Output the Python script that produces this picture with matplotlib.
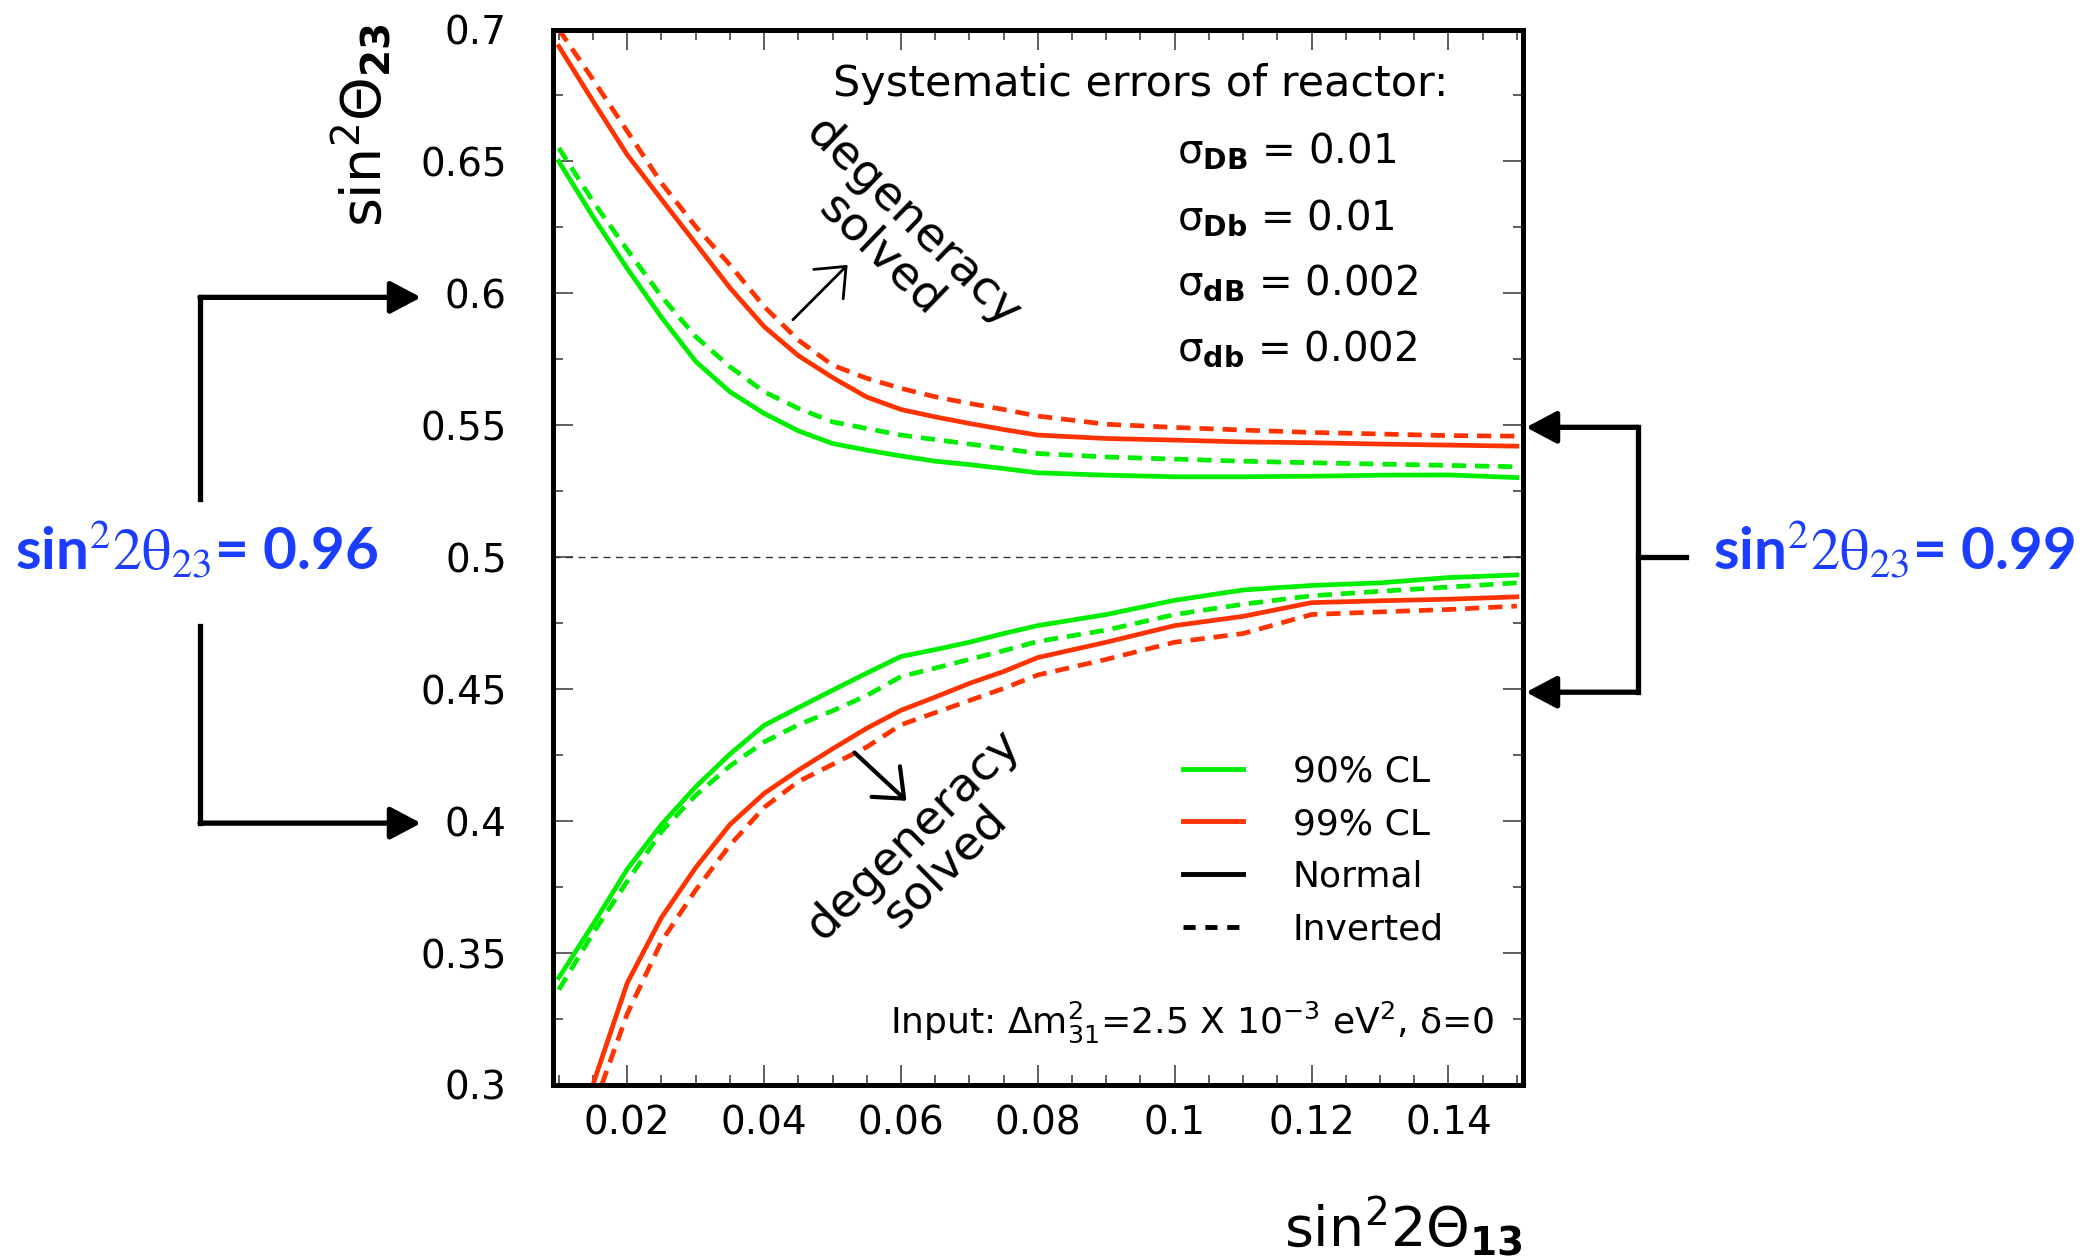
import matplotlib.pyplot as plt
import numpy as np
from matplotlib.lines import Line2D

# ---- data ---------------------------------------------------------------
# sin^2(2 theta_13) grid
x = [0.01, 0.015, 0.02, 0.025, 0.03, 0.035, 0.04, 0.045, 0.05, 0.055, 0.06,
     0.065, 0.07, 0.075, 0.08, 0.09, 0.10, 0.11, 0.12, 0.13, 0.14, 0.15]

# upper branch (sin^2 theta_23 > 0.5)
g90_norm_hi = [0.650, 0.629, 0.6094, 0.5909, 0.5742, 0.5627, 0.5545, 0.5479, 0.5431,
               0.5406, 0.5384, 0.5364, 0.5351, 0.5336, 0.5320, 0.5311, 0.5305,
               0.5305, 0.5307, 0.5311, 0.5312, 0.5302]
g90_inv_hi = [0.6551, 0.6348, 0.6165, 0.5988, 0.5836, 0.5722, 0.5627, 0.5564, 0.5513,
              0.5488, 0.5463, 0.5446, 0.5429, 0.5412, 0.5393, 0.5380, 0.5372,
              0.5364, 0.5358, 0.5353, 0.5348, 0.5343]
r99_norm_hi = [0.6936, 0.6728, 0.6525, 0.6356, 0.6189, 0.6021, 0.5874, 0.5764, 0.5681,
               0.5607, 0.5560, 0.5532, 0.5507, 0.5484, 0.5463, 0.5450, 0.5444,
               0.5437, 0.5434, 0.5429, 0.5425, 0.5421]
r99_inv_hi = [0.7000, 0.6810, 0.6614, 0.6418, 0.6253, 0.6108, 0.5950, 0.5823, 0.5728,
              0.5678, 0.5640, 0.5608, 0.5583, 0.5560, 0.5535, 0.5504, 0.5492,
              0.5482, 0.5473, 0.5467, 0.5461, 0.5459]

# lower branch (sin^2 theta_23 < 0.5)
g90_norm_lo = [0.3407, 0.3609, 0.3818, 0.3987, 0.4130, 0.4254, 0.4363, 0.4430, 0.4496,
               0.4561, 0.4624, 0.4650, 0.4678, 0.4711, 0.4741, 0.4783, 0.4837,
               0.4876, 0.4893, 0.4903, 0.4923, 0.4933]
g90_inv_lo = [0.3361, 0.3576, 0.3772, 0.3961, 0.4098, 0.4209, 0.4300, 0.4365, 0.4418,
              0.4476, 0.4548, 0.4580, 0.4613, 0.4646, 0.4681, 0.4724, 0.4783,
              0.4822, 0.4854, 0.4871, 0.4887, 0.4903]
x_r99_norm_lo = x[1:]
r99_norm_lo = [0.3003, 0.3387, 0.3635, 0.3824, 0.3987, 0.4105, 0.4193, 0.4274,
               0.4352, 0.4420, 0.4470, 0.4522, 0.4567, 0.4620, 0.4678, 0.4741,
               0.4776, 0.4828, 0.4835, 0.4841, 0.4850]
x_r99_inv_lo = [0.0163] + x[2:]
r99_inv_lo = [0.3003, 0.3270, 0.3544, 0.3739, 0.3909, 0.4052, 0.4150, 0.4215,
              0.4281, 0.4365, 0.4411, 0.4457, 0.4503, 0.4554, 0.4613, 0.4678,
              0.4711, 0.4783, 0.4793, 0.4802, 0.4815]

xticks = [0.02, 0.04, 0.06, 0.08, 0.10, 0.12, 0.14]
xticklabels = ['0.02', '0.04', '0.06', '0.08', '0.1', '0.12', '0.14']
yticks = [0.3, 0.35, 0.4, 0.45, 0.5, 0.55, 0.6, 0.65, 0.7]
yticklabels = ['0.3', '0.35', '0.4', '0.45', '0.5', '0.55', '0.6', '0.65', '0.7']

sigma_labels = [r'σ$_{\mathbf{DB}}$ = 0.01', r'σ$_{\mathbf{Db}}$ = 0.01',
                r'σ$_{\mathbf{dB}}$ = 0.002', r'σ$_{\mathbf{db}}$ = 0.002']

GREEN = '#00ee00'
RED = '#ff3300'
BLUE = '#1a3dff'

W, H = 2085, 1260
plt.rcParams['font.family'] = 'DejaVu Sans'

fig = plt.figure(figsize=(W / 100, H / 100), dpi=100)
ax = fig.add_axes([552.7 / W, 1 - 1085 / H, 970.3 / W, 1055.5 / H])

lw = 3.4
dash = (3.0, 1.9)
ax.plot(x, g90_norm_hi, color=GREEN, lw=lw)
ax.plot(x, g90_inv_hi, color=GREEN, lw=lw, dashes=dash)
ax.plot(x, r99_norm_hi, color=RED, lw=lw)
ax.plot(x, r99_inv_hi, color=RED, lw=lw, dashes=dash)
ax.plot(x, g90_norm_lo, color=GREEN, lw=lw)
ax.plot(x, g90_inv_lo, color=GREEN, lw=lw, dashes=dash)
ax.plot(x_r99_norm_lo, r99_norm_lo, color=RED, lw=lw)
ax.plot(x_r99_inv_lo, r99_inv_lo, color=RED, lw=lw, dashes=dash)

ax.axhline(0.5, color='#333333', lw=1.0, dashes=(5, 4))

ax.set_xlim(0.0091, 0.1509)
ax.set_ylim(0.3, 0.7)
ax.set_xticks(xticks)
ax.set_xticklabels(xticklabels)
ax.set_xticks(np.arange(0.01, 0.1501, 0.005), minor=True)
ax.set_yticks(yticks)
ax.set_yticklabels(yticklabels)
ax.set_yticks(np.arange(0.3, 0.7001, 0.025), minor=True)
ax.tick_params(which='both', direction='in', top=True, right=True,
               width=1.2, color='#444444', labelsize=28)
ax.tick_params(which='major', length=14.5)
ax.tick_params(which='minor', length=7)
ax.tick_params(axis='x', pad=14)
ax.tick_params(axis='y', pad=33)
for s in ax.spines.values():
    s.set_linewidth(3.6)

# axis titles
ax.text(1.0, -0.104, r'sin$^{2}$2$\Theta_{\mathbf{13}}$', transform=ax.transAxes,
        ha='right', va='top', fontsize=40)
ax.text(-0.1965, 0.9095, r'sin$^{2}\Theta_{\mathbf{23}}$', transform=ax.transAxes,
        ha='center', va='center', rotation=90, fontsize=40)

# systematic errors
ax.text(0.2889, 0.937, 'Systematic errors of reactor:', transform=ax.transAxes,
        ha='left', va='baseline', fontsize=31)
for i, lab in enumerate(sigma_labels):
    ax.text(0.6434, 0.8732 - i * 0.0623, lab, transform=ax.transAxes,
            ha='left', va='baseline', fontsize=29)

ax.text(0.9706, 0.0488, r'Input: $\Delta$m$^{2}_{31}$=2.5 X 10$^{-3}$ eV$^{2}$, δ=0',
        transform=ax.transAxes, ha='right', va='baseline', fontsize=26)

# degeneracy annotations
ax.text(0.0594, 0.6206, 'degeneracy\nsolved', rotation=-44, ha='center', va='center',
        multialignment='center', fontsize=34, linespacing=1.0)
ax.annotate('', xy=(0.0522, 0.6108), xytext=(0.0442, 0.590),
            arrowprops=dict(arrowstyle='->,head_length=0.6,head_width=0.5',
                            lw=2, color='k', mutation_scale=30, shrinkA=0, shrinkB=0))
ax.text(0.0641, 0.3887, 'degeneracy\nsolved', rotation=44.5, ha='center', va='center',
        multialignment='center', fontsize=34, linespacing=1.0)
ax.annotate('', xy=(0.0608, 0.4077), xytext=(0.0532, 0.426),
            arrowprops=dict(arrowstyle='->,head_length=0.6,head_width=0.5',
                            lw=3, color='k', mutation_scale=30, shrinkA=0, shrinkB=0))

# legend
handles = [Line2D([], [], color=GREEN, lw=3.5),
           Line2D([], [], color=RED, lw=3.5),
           Line2D([], [], color='k', lw=3.5),
           Line2D([], [], color='k', lw=3.5, dashes=(2.5, 2.0))]
ax.legend(handles, ['90% CL', '99% CL', 'Normal', 'Inverted'], loc='upper left',
          bbox_to_anchor=(0.6496, 0.3133), frameon=False, fontsize=26,
          handlelength=1.66, handletextpad=1.38, labelspacing=0.52,
          borderpad=0, borderaxespad=0)

# ---- overlay in pixel coordinates for the brackets -------------------------
ov = fig.add_axes([0, 0, 1, 1], zorder=5)
ov.set_xlim(0, W)
ov.set_ylim(H, 0)
ov.axis('off')


def ypix(v):
    return H - ax.transData.transform((0.05, v))[1]


head = dict(arrowstyle='-|>,head_length=0.85,head_width=0.45', mutation_scale=22,
            lw=3.8, color='k', shrinkA=0, shrinkB=0)
blw = 3.8

# left bracket: sin^2 2theta23 = 0.96 -> 0.6 / 0.4
yl_top, yl_bot = ypix(0.6) + 4, ypix(0.4) + 2
ov.plot([200, 200], [yl_top, 499], color='k', lw=blw, solid_capstyle='projecting')
ov.plot([200, 200], [626, yl_bot], color='k', lw=blw, solid_capstyle='projecting')
ov.annotate('', xy=(421, yl_top), xytext=(200, yl_top), arrowprops=head)
ov.annotate('', xy=(421, yl_bot), xytext=(200, yl_bot), arrowprops=head)
ov.text(196.5, 570, r'sin$^{2}\mathrm{2θ}_{23}$= 0.96', color=BLUE, fontsize=42,
        fontfamily='Lato', fontweight='bold', math_fontfamily='stix',
        ha='center', va='baseline')

# right bracket: sin^2 2theta23 = 0.99 -> 0.55 / 0.45
yr_top, yr_bot = ypix(0.55) + 2, ypix(0.45) + 3
ov.plot([1638, 1638], [yr_top, yr_bot], color='k', lw=blw, solid_capstyle='projecting')
ov.plot([1638, 1686], [ypix(0.5), ypix(0.5)], color='k', lw=blw)
ov.annotate('', xy=(1526, yr_top), xytext=(1638, yr_top), arrowprops=head)
ov.annotate('', xy=(1526, yr_bot), xytext=(1638, yr_bot), arrowprops=head)
ov.text(1894.6, 570, r'sin$^{2}\mathrm{2θ}_{23}$= 0.99', color=BLUE, fontsize=42,
        fontfamily='Lato', fontweight='bold', math_fontfamily='stix',
        ha='center', va='baseline')

fig.savefig('out.png', dpi=100)
